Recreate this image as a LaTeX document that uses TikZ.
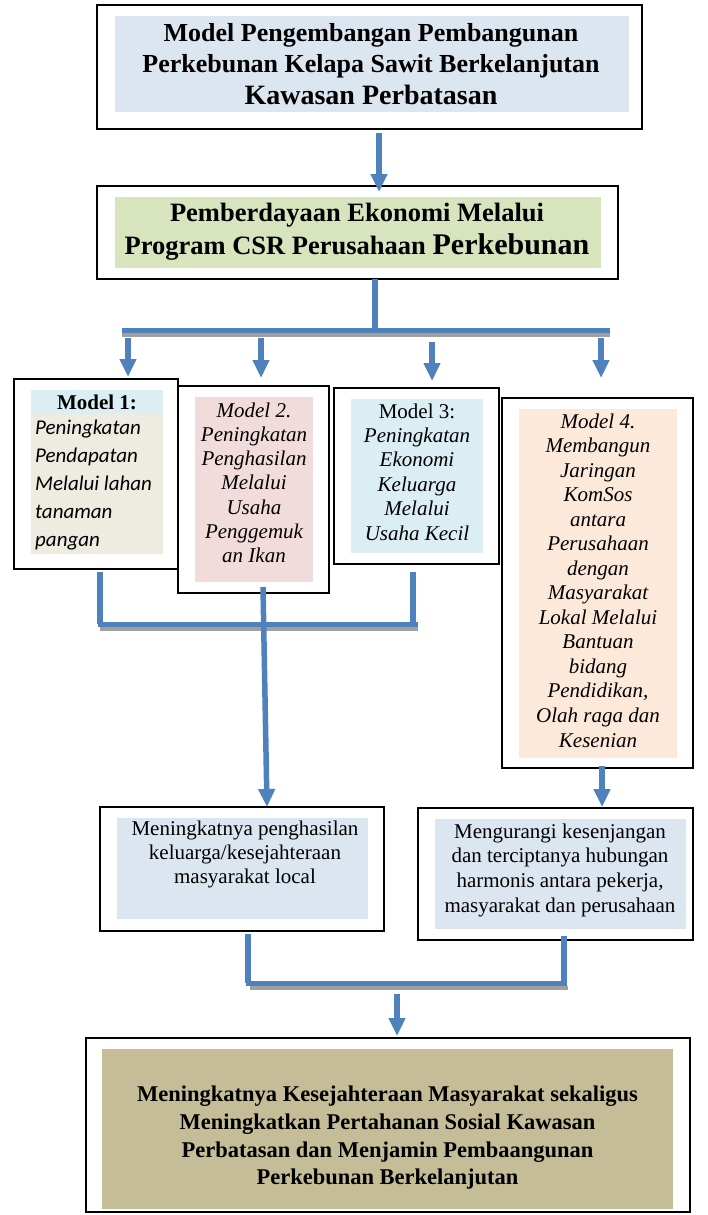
\documentclass[tikz,border=0pt]{standalone}
\usepackage{fontspec}
\setmainfont{Liberation Serif}
\newfontfamily\calibrifont{Carlito}
\usetikzlibrary{arrows.meta,calc}
\definecolor{arrowblue}{HTML}{4F81BD}
\definecolor{shadowgray}{HTML}{A0A0A0}
\definecolor{titlefill}{HTML}{DCE6F1}
\definecolor{greenfill}{HTML}{D7E4BD}
\definecolor{headfill}{HTML}{DAEEF3}
\definecolor{beigefill}{HTML}{EEECE1}
\definecolor{pinkfill}{HTML}{F2DCDB}
\definecolor{cyanfill}{HTML}{DAEEF3}
\definecolor{peachfill}{HTML}{FDE9D9}
\definecolor{khakifill}{HTML}{C4BD97}
\newcommand\firstln{\rule{0pt}{0.75em}}
\begin{document}
\begin{tikzpicture}[x=1pt,y=-1pt,
  outerbox/.style={draw=black, line width=1.8pt, fill=white, inner sep=0pt, outer sep=0pt},
  fillbox/.style={draw=none, inner sep=0pt, outer sep=0pt},
  txt/.style={inner sep=0pt, outer sep=0pt, anchor=north, align=center},
  conn/.style={draw=arrowblue, line width=5.5pt},
  arr/.style={conn, -{Triangle[length=18pt,width=16pt]}},
  bar/.style={draw=arrowblue, line width=5pt},
  barshadow/.style={draw=shadowgray, line width=4pt}]
\useasboundingbox (0,0) rectangle (707,1215);

% ---- top box
\node[outerbox, minimum width=545pt, minimum height=124pt] (top) at (369.5,67) {};
\node[fillbox, fill=titlefill, minimum width=514pt, minimum height=96pt] (topf) at (372,64) {};
\node[txt, font=\fontsize{26}{31}\selectfont\bfseries] (topt) at (371,21.5)
  {\firstln Model Pengembangan Pembangunan\\ Perkebunan Kelapa Sawit Berkelanjutan\\[1.5pt] {\fontsize{28}{32}\selectfont Kawasan Perbatasan}};

% ---- second box
\node[outerbox, minimum width=521pt, minimum height=93pt] (csr) at (357.5,232.5) {};
\node[fillbox, fill=greenfill, minimum width=486pt, minimum height=71pt] (csrf) at (358,232.5) {};
\node[txt, font=\fontsize{26.5}{33}\selectfont\bfseries] (csrt) at (357,202.1)
  {\firstln Pemberdayaan Ekonomi Melalui\\ Program CSR Perusahaan {\fontsize{30}{33}\selectfont Perkebunan}};

% ---- model 1
\node[outerbox, minimum width=164pt, minimum height=190pt] (m1) at (96,474) {};
\node[fillbox, fill=headfill, minimum width=132pt, minimum height=24pt] (m1h) at (97,402) {};
\node[fillbox, fill=beigefill, minimum width=132pt, minimum height=140pt] (m1f) at (97,484) {};
\node[inner sep=0pt, anchor=base, font=\fontsize{21}{24}\selectfont\bfseries] (m1title) at (97,409) {Model 1:};
\node[inner sep=0pt, anchor=north west, align=left, font=\calibrifont\itshape\fontsize{21}{28}\selectfont] (m1t) at (35,418.25)
  {\firstln Peningkatan\\ Pendapatan\\ Melalui lahan\\ tanaman\\ pangan};

% ---- model 2
\node[outerbox, minimum width=151pt, minimum height=207pt] (m2) at (253.5,489.5) {};
\node[fillbox, fill=pinkfill, minimum width=118pt, minimum height=185pt] (m2f) at (254,489.5) {};
\node[txt, font=\fontsize{21}{24.33}\selectfont\itshape] (m2t) at (254,401.25)
  {\firstln Model 2.\\ Peningkatan\\ Penghasilan\\ Melalui\\ Usaha\\ Penggemuk\\ an Ikan};

% ---- model 3
\node[outerbox, minimum width=165pt, minimum height=176pt] (m3) at (416.5,476) {};
\node[fillbox, fill=cyanfill, minimum width=132pt, minimum height=154pt] (m3f) at (417,476) {};
\node[txt, font=\fontsize{21}{24.4}\selectfont] (m3t) at (417,402.25)
  {\firstln Model 3:\\ \textit{Peningkatan}\\ \textit{Ekonomi}\\ \textit{Keluarga}\\ \textit{Melalui}\\ \textit{Usaha Kecil}};

% ---- model 4
\node[outerbox, minimum width=191pt, minimum height=370pt] (m4) at (597.5,583) {};
\node[fillbox, fill=peachfill, minimum width=158pt, minimum height=349pt] (m4f) at (598,583.5) {};
\node[txt, font=\fontsize{21}{24.54}\selectfont\itshape] (m4t) at (598,412.25)
  {\firstln Model 4.\\ Membangun\\ Jaringan\\ KomSos\\ antara\\ Perusahaan\\ dengan\\ Masyarakat\\ Lokal Melalui\\ Bantuan\\ bidang\\ Pendidikan,\\ Olah raga dan\\ Kesenian};

% ---- result 1
\node[outerbox, minimum width=284pt, minimum height=124pt] (r1) at (242,869) {};
\node[fillbox, fill=titlefill, minimum width=251pt, minimum height=101pt] (r1f) at (242.5,868.5) {};
\node[txt, font=\fontsize{21}{24}\selectfont] (r1t) at (245,819.25)
  {\firstln Meningkatnya penghasilan\\ keluarga/kesejahteraan\\ masyarakat local};

% ---- result 2
\node[outerbox, minimum width=275pt, minimum height=132pt] (r2) at (555.5,874) {};
\node[fillbox, fill=titlefill, minimum width=251pt, minimum height=110pt] (r2f) at (560.5,874) {};
\node[txt, font=\fontsize{21}{24.67}\selectfont] (r2t) at (560,822.25)
  {\firstln Mengurangi kesenjangan\\ dan terciptanya hubungan\\ harmonis antara pekerja,\\ masyarakat dan perusahaan};

% ---- final box
\node[outerbox, minimum width=604pt, minimum height=174pt] (fin) at (388,1125) {};
\node[fillbox, fill=khakifill, minimum width=571pt, minimum height=160pt] (finf) at (387.5,1129) {};
\node[txt, font=\fontsize{22.5}{27.7}\selectfont\bfseries] (fint) at (387.5,1085)
  {\firstln Meningkatnya Kesejahteraan Masyarakat sekaligus\\ Meningkatkan Pertahanan Sosial Kawasan\\ Perbatasan dan Menjamin Pembaangunan\\ Perkebunan Berkelanjutan};

% ---- connector coordinates
\coordinate (c1s) at (379,133); \coordinate (c1e) at (379,192);
\coordinate (j1) at (375,330);
\coordinate (barL) at (122,330);
\coordinate (barR) at (610,330);
\coordinate (d1s) at (128,338); \coordinate (d1e) at (128,377);
\coordinate (d2s) at (261,338); \coordinate (d2e) at (261,378);
\coordinate (d3s) at (432,342); \coordinate (d3e) at (432,381);
\coordinate (d4s) at (601,338); \coordinate (d4e) at (601,378);
\coordinate (b2L) at (98,624); \coordinate (b2R) at (418,624);
\coordinate (v1) at (100,624); \coordinate (v3) at (413,624);
\coordinate (m2o) at (263,587); \coordinate (r1in) at (267,807);
\coordinate (m4o) at (602,766); \coordinate (r2in) at (602,807);
\coordinate (v5) at (248,983); \coordinate (v6) at (564,983);
\coordinate (b3L) at (246,983); \coordinate (b3R) at (567,983);
\coordinate (fs) at (397,994); \coordinate (fe) at (397,1036);

% ---- top connectors
\draw[arr] (c1s) -- (c1e);
\draw[conn] (j1 |- csr.south) -- (j1);
\draw[barshadow] ($(barL)+(0,4.5)$) -- ($(barR)+(0,4.5)$);
\draw[bar] (barL) -- (barR);
\draw[arr] (d1s) -- (d1e);
\draw[arr] (d2s) -- (d2e);
\draw[arr] (d3s) -- (d3e);
\draw[arr] (d4s) -- (d4e);

% ---- middle connectors
\draw[conn] (v1 |- m1.south) ++(0,3) -- (v1);
\draw[conn] (v3 |- m3.south) ++(0,8) -- (v3);
\draw[barshadow] ($(b2L)+(2,5)$) -- ($(b2R)+(0,5)$);
\draw[bar] (b2L) -- (b2R);
\draw[arr] (m2o) -- (r1in);
\draw[arr] (m4o) -- (r2in);

% ---- bottom connectors
\draw[conn] (v5 |- r1.south) ++(0,3) -- (v5);
\draw[conn] (v6 |- r2.south) ++(0,-4) -- (v6);
\draw[barshadow] ($(b3L)+(4,5)$) -- ($(b3R)+(1,5)$);
\draw[bar] (b3L) -- (b3R);
\draw[arr] (fs) -- (fe);
\end{tikzpicture}
\end{document}
